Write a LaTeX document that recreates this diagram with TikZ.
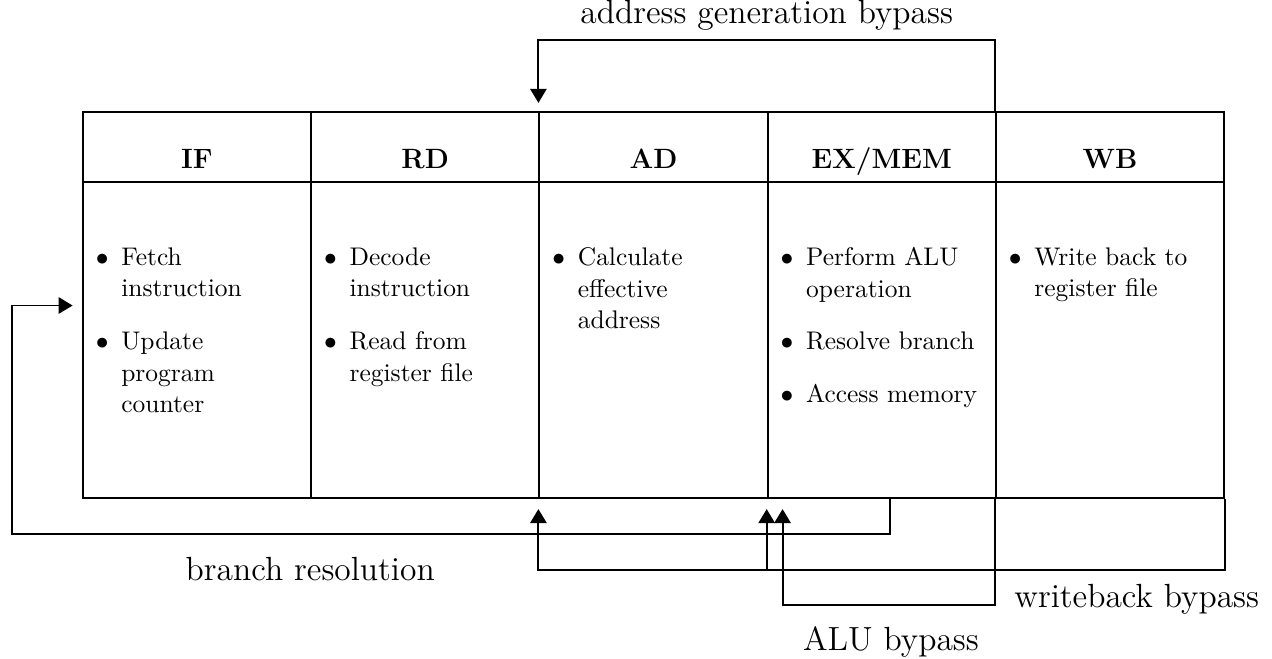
\documentclass[tikz,border=0pt,11pt]{standalone}
\usetikzlibrary{arrows.meta}

\setlength{\leftmargini}{11pt}
\renewcommand{\labelitemi}{$\bullet$}
\newcommand{\stagelist}[1]{\parbox[c][4.782cm][t]{87pt}{\vspace*{16.3pt}\raggedright
  \begin{itemize}#1\end{itemize}}}

\begin{document}
\begin{tikzpicture}[node distance=3.448cm, thick, >={Triangle[length=6pt,width=7pt]},
  stage/.style={draw, minimum width=3.448cm, minimum height=1.056cm, font=\large\bfseries, text height=18.6pt, text depth=0pt},
  tasks/.style={draw, minimum width=3.448cm, minimum height=4.782cm, inner xsep=5.5pt, inner ysep=0pt},
  note/.style={font=\Large}]

  \node[stage] (if) {IF};
  \node[stage] (rd) [right of=if] {RD};
  \node[stage] (ad) [right of=rd] {AD};
  \node[stage] (ex) [right of=ad] {EX/MEM};
  \node[stage] (wb) [right of=ex] {WB};

  \node[tasks] (ifb) [node distance=2.919cm, below of=if] {\stagelist{\item Fetch instruction \item Update program counter}};
  \node[tasks] (rdb) [right of=ifb] {\stagelist{\item Decode instruction \item Read from register file}};
  \node[tasks] (adb) [right of=rdb] {\stagelist{\item Calculate effective address}};
  \node[tasks] (exb) [right of=adb] {\stagelist{\item Perform ALU operation \item Resolve branch \item Access memory}};
  \node[tasks] (wbb) [right of=exb] {\stagelist{\item Write back to register file}};

  \useasboundingbox ([xshift=-1.237cm,yshift=1.674cm]if.north west) rectangle ([xshift=0.709cm,yshift=-2.414cm]wbb.south east);

  \coordinate (brin) at ([xshift=-0.14cm,yshift=0.52cm]ifb.west);

  \draw[->] (wb.north west) -- ++(0,1.07) -| node[note, pos=0.25, above] {address generation bypass} ([yshift=0.12cm]ad.north west);

  \draw[->] ([xshift=0.12cm]exb.south) -- ++(0,-0.53) -| node[note, pos=0.33, below, yshift=-6pt] {branch resolution} ([xshift=-0.92cm]brin) -- (brin);

  \draw[->] (wbb.south east) -- ++(0,-1.07) -| ([yshift=-0.15cm]adb.south west);
  \draw[->] ([yshift=-1.07cm]exb.south west) -- ([yshift=-0.15cm]exb.south west);
  \node[note] (wblabel) at ([xshift=-1.335cm,yshift=-1.51cm]wbb.south east) {writeback bypass};

  \draw[->] (wbb.south west) -- ++(0,-1.6) -| node[note, pos=0.245, below, yshift=-5pt] {ALU bypass} ([xshift=0.24cm,yshift=-0.15cm]exb.south west);

\end{tikzpicture}
\end{document}
